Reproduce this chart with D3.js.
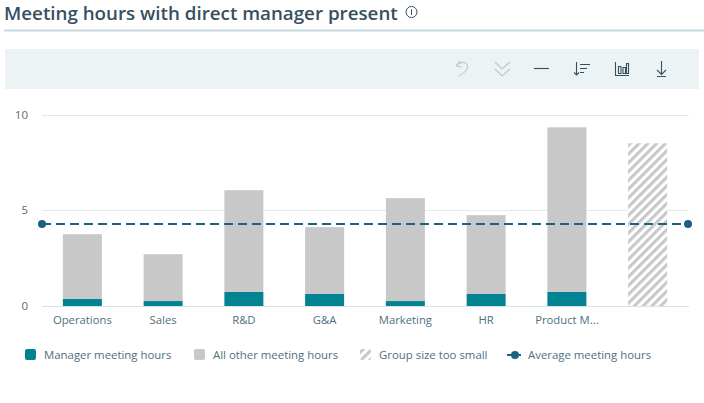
<!DOCTYPE html>
<html>
<head>
<meta charset="utf-8">
<script src="https://cdn.jsdelivr.net/npm/d3@7"></script>
<style>
  html, body { margin: 0; padding: 0; background: #fff; overflow: hidden; }
  text { font-family: "Open Sans", "Noto Sans", sans-serif; }
</style>
</head>
<body>
<div id="chart"></div>
<script>
// chart data
const categories = ["Operations", "Sales", "R&D", "G&A", "Marketing", "HR", "Product M...", ""];
const managerHours = [0.37, 0.26, 0.74, 0.63, 0.26, 0.63, 0.74, 0];
const otherHours = [3.40, 2.46, 5.34, 3.51, 5.40, 4.14, 8.64, 0];
const tooSmallHours = [0, 0, 0, 0, 0, 0, 0, 8.54];
const averageHours = 4.3;
const yTicks = [0, 5, 10];
const legendLabels = ["Manager meeting hours", "All other meeting hours", "Group size too small", "Average meeting hours"];

const width = 704, height = 403;
const margin = { left: 42, right: 16, top: 115.5, bottom: 97 };

const svg = d3.select("#chart").append("svg")
  .attr("width", width)
  .attr("height", height)
  .style("display", "block");

// hatch for the small group
const defs = svg.append("defs");
const hatch = defs.append("pattern")
  .attr("id", "hatch")
  .attr("patternUnits", "userSpaceOnUse")
  .attr("width", 6.2)
  .attr("height", 6.2)
  .attr("patternTransform", "rotate(45)");
hatch.append("rect").attr("width", 6.2).attr("height", 6.2).attr("fill", "#fff");
hatch.append("rect").attr("width", 3.1).attr("height", 6.2).attr("fill", "#c8c8c8");

// title
svg.append("text")
  .attr("x", 4)
  .attr("y", 20)
  .style("font-size", "18.75px")
  .style("font-weight", 600)
  .style("fill", "#37505f")
  .text("Meeting hours with direct manager present");

// info icon
svg.append("circle")
  .attr("cx", 411.5).attr("cy", 12).attr("r", 5.5)
  .attr("fill", "none").attr("stroke", "#37505f").attr("stroke-width", 1);
svg.append("line")
  .attr("x1", 411.5).attr("x2", 411.5).attr("y1", 9.5).attr("y2", 15)
  .attr("stroke", "#37505f").attr("stroke-width", 1);

svg.append("line")
  .attr("x1", 4).attr("x2", 704).attr("y1", 30.5).attr("y2", 30.5)
  .attr("stroke", "#c5dae0").attr("stroke-width", 2);

// toolbar
svg.append("rect")
  .attr("x", 5).attr("y", 49).attr("width", 694).attr("height", 40)
  .attr("fill", "#ebf3f5");

const icons = [
  { d: "M456 66 L460 61 M456 66 L462 67 M456 66 C462 60 468 62 467.5 68 C467 71 462 74 459 76", c: "#b9c7cd" },
  { d: "M495 62 L502 69 L510 62 M495 69 L502 76 L510 69", c: "#b9c7cd" },
  { d: "M534 68.5 L549 68.5", c: "#37505f" },
  { d: "M576.5 62 V75 M574 72.5 L576.5 75 L579 72.5 M580 64.5 H590 M580 68.5 H587 M580 72.5 H584", c: "#37505f" },
  { d: "M615.5 62 V75.5 H629 M618.5 66.5 H621 V73.5 H618.5 Z M623 67.5 H625.5 V73.5 H623 Z M626.5 63.5 H628.5 V73.5 H626.5 Z", c: "#37505f" },
  { d: "M661.5 61 V74 M657 70 L661.5 74.5 L666 70 M657 76.5 H666", c: "#37505f" }
];
svg.append("g").selectAll("path")
  .data(icons)
  .join("path")
  .attr("d", d => d.d)
  .attr("fill", "none")
  .attr("stroke", d => d.c)
  .attr("stroke-width", 1.1);

// scales
const x = d3.scaleBand()
  .domain(d3.range(categories.length))
  .range([margin.left, width - margin.right])
  .paddingInner(0.517)
  .paddingOuter(0.2585);

const y = d3.scaleLinear()
  .domain([0, 10])
  .range([height - margin.bottom, margin.top]);

// gridlines
svg.append("g").selectAll("line")
  .data(yTicks)
  .join("line")
  .attr("x1", margin.left)
  .attr("x2", width - margin.right + 1)
  .attr("y1", d => Math.floor(y(d)) + 0.5)
  .attr("y2", d => Math.floor(y(d)) + 0.5)
  .attr("stroke", d => d === 0 ? "#d9e1ea" : "#e8e8e8")
  .attr("stroke-width", 1);

// y axis labels
svg.append("g")
  .attr("transform", `translate(${margin.left},-0.5)`)
  .call(d3.axisLeft(y).tickValues(yTicks).tickSize(0).tickPadding(14))
  .call(g => g.select(".domain").remove())
  .selectAll("text")
  .style("font-size", "11.5px")
  .style("fill", "#5f6a70");

// stacked bars
const rows = categories.map((c, i) => ({ i: i, manager: managerHours[i], other: otherHours[i], small: tooSmallHours[i] }));
const stacked = d3.stack().keys(["manager", "other", "small"])(rows);
const fills = { manager: "#038391", other: "#c8c8c8", small: "url(#hatch)" };

svg.append("g").selectAll("g")
  .data(stacked)
  .join("g")
  .attr("fill", d => fills[d.key])
  .selectAll("rect")
  .data(d => d)
  .join("rect")
  .attr("x", d => x(d.data.i))
  .attr("width", x.bandwidth())
  .attr("y", d => y(d[1]))
  .attr("height", d => y(d[0]) - y(d[1]));

// category labels
svg.append("g")
  .attr("transform", `translate(0,${height - margin.bottom})`)
  .call(d3.axisBottom(x).tickFormat(i => categories[i]).tickSize(0).tickPadding(10))
  .call(g => g.select(".domain").remove())
  .selectAll("text")
  .style("font-size", "11.3px")
  .style("fill", "#4f6f80");

// average line
const avgColor = "#1a6282";
svg.append("line")
  .attr("x1", margin.left)
  .attr("x2", width - margin.right)
  .attr("y1", y(averageHours))
  .attr("y2", y(averageHours))
  .attr("stroke", avgColor)
  .attr("stroke-width", 2)
  .attr("stroke-dasharray", "9 5");
svg.append("g").selectAll("circle")
  .data([margin.left, width - margin.right])
  .join("circle")
  .attr("cx", d => d)
  .attr("cy", y(averageHours))
  .attr("r", 4)
  .attr("fill", avgColor);

// legend
const legendY = 355;
const legendX = [44, 213, 379, 528];
const legend = svg.append("g");
legend.selectAll("text")
  .data(legendLabels)
  .join("text")
  .attr("x", (d, i) => legendX[i])
  .attr("y", legendY + 4)
  .style("font-size", "11.4px")
  .style("fill", "#4f6f80")
  .text(d => d);
legend.append("rect").attr("x", 25).attr("y", legendY - 6).attr("width", 11).attr("height", 11).attr("rx", 2).attr("fill", fills.manager);
legend.append("rect").attr("x", 194).attr("y", legendY - 6).attr("width", 11).attr("height", 11).attr("rx", 2).attr("fill", fills.other);
legend.append("rect").attr("x", 360).attr("y", legendY - 6).attr("width", 11).attr("height", 11).attr("rx", 2).attr("fill", fills.small);
legend.append("line").attr("x1", 507).attr("x2", 524).attr("y1", legendY).attr("y2", legendY)
  .attr("stroke", avgColor).attr("stroke-width", 2).attr("stroke-dasharray", "9 3 2 3");
legend.append("circle").attr("cx", 515).attr("cy", legendY).attr("r", 4).attr("fill", avgColor);
</script>
</body>
</html>
